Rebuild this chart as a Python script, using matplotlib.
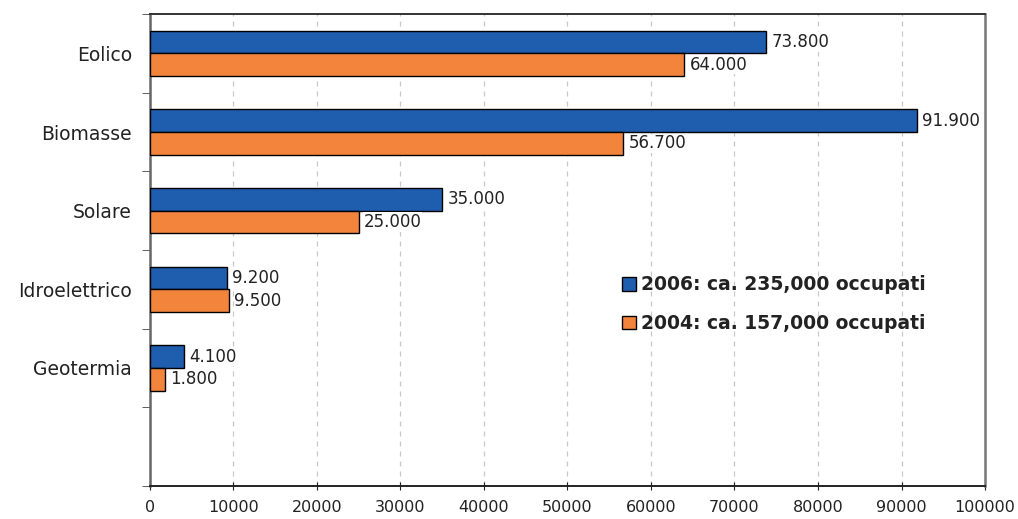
import matplotlib.pyplot as plt
from matplotlib.patches import Patch
from matplotlib.ticker import MultipleLocator

fonti = ["Eolico", "Biomasse", "Solare", "Idroelettrico", "Geotermia"]
occ_2006 = [73800, 91900, 35000, 9200, 4100]
occ_2004 = [64000, 56700, 25000, 9500, 1800]
legenda = ["2006: ca. 235,000 occupati", "2004: ca. 157,000 occupati"]

blu = "#1F5DAE"
arancio = "#F2843C"

plt.rcParams["font.family"] = ["DejaVu Sans"]

fig = plt.figure(figsize=(10.18, 5.19), dpi=100)
ax = fig.add_axes([0.1473, 0.0636, 0.8203, 0.9094])

h = 0.29
y = list(range(len(fonti)))
b1 = ax.barh([i - h / 2 for i in y], occ_2006, height=h, color=blu,
             edgecolor="black", linewidth=1.0, zorder=3)
b2 = ax.barh([i + h / 2 for i in y], occ_2004, height=h, color=arancio,
             edgecolor="black", linewidth=1.0, zorder=3)

def etichetta(v):
    return f"{v:,}".replace(",", ".")

for bars, vals in ((b1, occ_2006), (b2, occ_2004)):
    for bar, v in zip(bars, vals):
        ax.text(v + 600, bar.get_y() + bar.get_height() / 2, etichetta(v),
                va="center", ha="left", fontsize=12, color="#222222", zorder=4,
                bbox=dict(facecolor="white", edgecolor="none", pad=0.5))

# sei fasce, l'ultima vuota
ax.set_ylim(5.5, -0.5)
ax.set_xlim(0, 100000)
ax.set_yticks(y)
ax.set_yticklabels(fonti, fontsize=13.5, color="#222222")
ax.tick_params(axis="y", which="major", length=0, pad=13)
ax.set_yticks([k - 0.5 for k in range(7)], minor=True)
ax.tick_params(axis="y", which="minor", length=6, direction="out", color="#444444")

ax.xaxis.set_major_locator(MultipleLocator(10000))
ax.tick_params(axis="x", length=6, direction="inout", labelsize=11.5, colors="#222222", pad=7)
ax.grid(axis="x", linestyle=(0, (4, 4)), color="#c8c8c8", linewidth=0.9, zorder=0)

ax.spines["left"].set_color("#666666")
ax.spines["left"].set_linewidth(1.8)
ax.spines["bottom"].set_color("#222222")
ax.spines["bottom"].set_linewidth(1.4)
ax.spines["top"].set_color("#333333")
ax.spines["top"].set_linewidth(1.4)
ax.spines["right"].set_color("#777777")
ax.spines["right"].set_linewidth(1.8)

maniglie = [Patch(facecolor=blu, edgecolor="black"), Patch(facecolor=arancio, edgecolor="black")]
leg = ax.legend(maniglie, legenda, loc="center left", bbox_to_anchor=(0.545, 0.385),
                frameon=False, handlelength=0.75, handleheight=0.75, handletextpad=0.25,
                labelspacing=1.05, prop={"weight": "bold", "size": 13.5})
for t in leg.get_texts():
    t.set_color("#222222")

fig.savefig("out.png", dpi=100)
